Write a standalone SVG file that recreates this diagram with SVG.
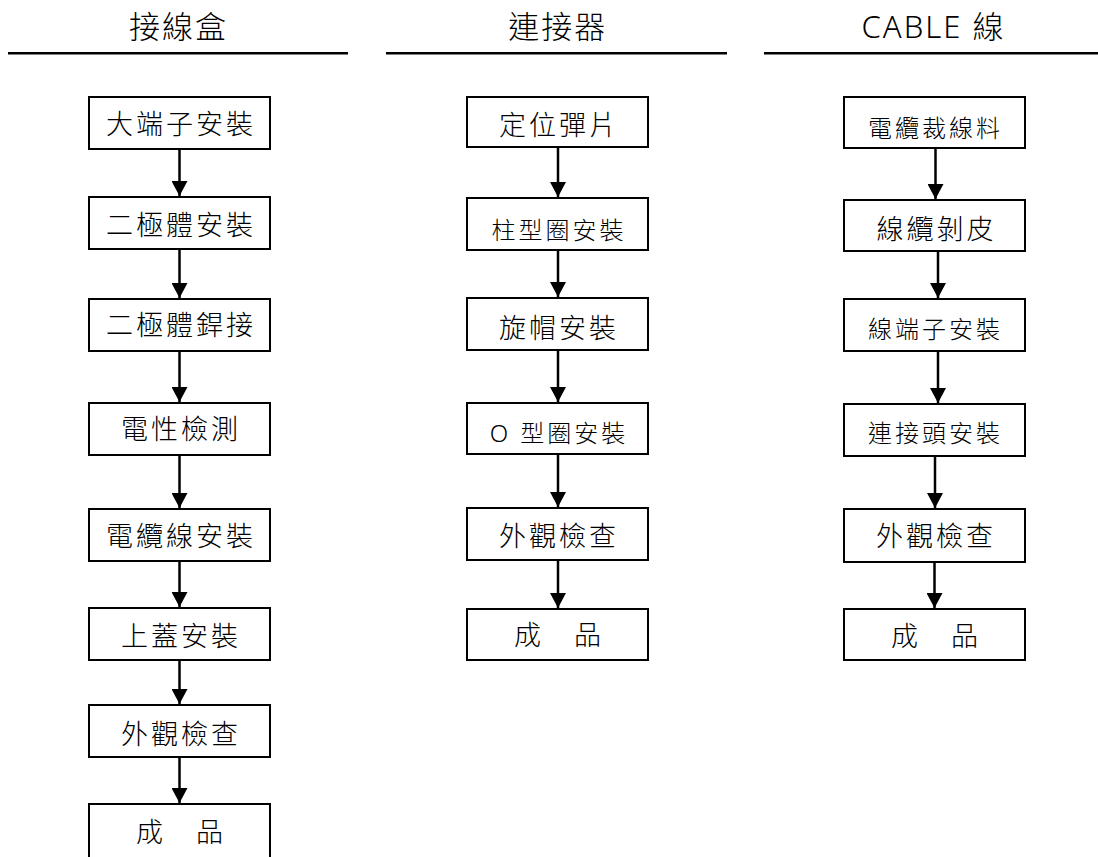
<svg xmlns="http://www.w3.org/2000/svg" width="1098" height="857" viewBox="0 0 1098 857">
<style>
text{font-family:"Noto Sans","Noto Sans CJK TC",sans-serif;font-weight:300;fill:#000;text-anchor:middle}
.t{font-size:31px;letter-spacing:2px}
.l{font-size:27px;letter-spacing:3px}
.s{font-size:24px;letter-spacing:3px}
rect{fill:#fff;stroke:#000;stroke-width:2}
.hr{stroke:#000;stroke-width:2.5}
.c line{stroke:#000;stroke-width:2.5;marker-end:url(#ah)}
</style>
<defs>
<marker id="ah" markerUnits="userSpaceOnUse" markerWidth="15" markerHeight="16" viewBox="0 0 15 16" refX="15" refY="8" orient="auto">
<path d="M0,0 L15,8 L0,16 Z" fill="#000"/>
</marker>
</defs>
<g id="headers">
<text class="t" x="178.5" y="38">接線盒</text>
<text class="t" x="557.8" y="38">連接器</text>
<text class="t" x="933.5" y="38">CABLE 線</text>
<line class="hr" x1="8" y1="53.3" x2="348" y2="53.3"/>
<line class="hr" x1="386" y1="53.3" x2="727" y2="53.3"/>
<line class="hr" x1="764" y1="53.3" x2="1098" y2="53.3"/>
</g>
<g class="c" id="connectors">
<line x1="179.5" y1="150" x2="179.5" y2="196"/>
<line x1="179.5" y1="250" x2="179.5" y2="298"/>
<line x1="179.5" y1="352" x2="179.5" y2="402"/>
<line x1="179.5" y1="456" x2="179.5" y2="508"/>
<line x1="179.5" y1="562" x2="179.5" y2="607"/>
<line x1="179.5" y1="661" x2="179.5" y2="704"/>
<line x1="179.5" y1="758" x2="179.5" y2="803"/>
<line x1="558" y1="148" x2="558" y2="197"/>
<line x1="558" y1="251" x2="558" y2="297"/>
<line x1="558" y1="351" x2="558" y2="402"/>
<line x1="558" y1="455" x2="558" y2="507"/>
<line x1="558" y1="561" x2="558" y2="608"/>
<line x1="935.5" y1="149" x2="935.5" y2="199"/>
<line x1="938" y1="252" x2="938" y2="298"/>
<line x1="938" y1="352" x2="938" y2="403"/>
<line x1="935" y1="457" x2="935" y2="508"/>
<line x1="934.5" y1="563" x2="934.5" y2="608"/>
</g>
<g id="a1"><rect x="89" y="97" width="181" height="52"/><text class="l" x="181" y="134.2">大端子安裝</text></g>
<g id="a2"><rect x="89" y="197" width="181" height="52"/><text class="l" x="181" y="234.5">二極體安裝</text></g>
<g id="a3"><rect x="89" y="299" width="181" height="52"/><text class="l" x="181" y="335.3">二極體銲接</text></g>
<g id="a4"><rect x="89" y="403" width="181" height="52"/><text class="l" x="181" y="438.8">電性檢測</text></g>
<g id="a5"><rect x="89" y="509" width="181" height="52"/><text class="l" x="181" y="546.1">電纜線安裝</text></g>
<g id="a6"><rect x="89" y="608" width="181" height="52"/><text class="l" x="181" y="646.3">上蓋安裝</text></g>
<g id="a7"><rect x="89" y="705" width="181" height="52"/><text class="l" x="181" y="743.8">外觀檢查</text></g>
<g id="a8"><rect x="89" y="804" width="181" height="60"/><text class="l" x="181" y="842.3">成　品</text></g>
<g id="b1"><rect x="467" y="97" width="181" height="50"/><text class="l" x="559" y="134.8">定位彈片</text></g>
<g id="b2"><rect x="467" y="198" width="181" height="52"/><text class="s" x="559" y="238.5">柱型圈安裝</text></g>
<g id="b3"><rect x="467" y="298" width="181" height="52"/><text class="l" x="559" y="337.8">旋帽安裝</text></g>
<g id="b4"><rect x="467" y="403" width="181" height="51"/><text class="s" x="559" y="441.9">O 型圈安裝</text></g>
<g id="b5"><rect x="467" y="508" width="181" height="52"/><text class="l" x="559" y="545.6">外觀檢查</text></g>
<g id="b6"><rect x="467" y="609" width="181" height="51"/><text class="l" x="559" y="645.3">成　品</text></g>
<g id="c1"><rect x="844" y="97" width="181" height="51"/><text class="s" x="935.5" y="136.6">電纜裁線料</text></g>
<g id="c2"><rect x="844" y="200" width="181" height="51"/><text class="l" x="936.5" y="238.6">線纜剝皮</text></g>
<g id="c3"><rect x="844" y="299" width="181" height="52"/><text class="s" x="935.5" y="338.3">線端子安裝</text></g>
<g id="c4"><rect x="844" y="404" width="181" height="52"/><text class="s" x="935.5" y="441.9">連接頭安裝</text></g>
<g id="c5"><rect x="844" y="509" width="181" height="53"/><text class="l" x="936" y="546.1">外觀檢查</text></g>
<g id="c6"><rect x="844" y="609" width="181" height="51"/><text class="l" x="936" y="646.1">成　品</text></g>
</svg>
